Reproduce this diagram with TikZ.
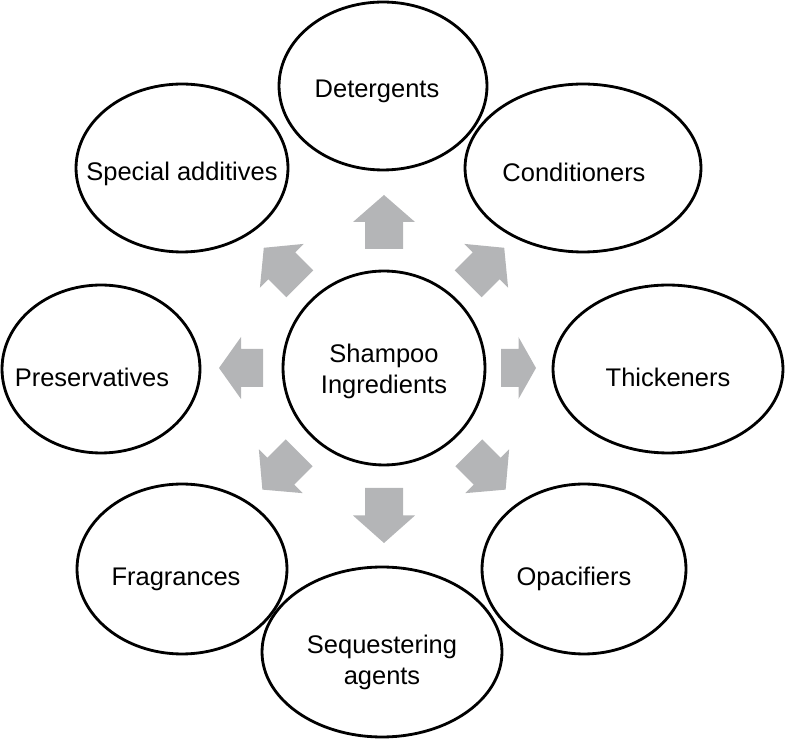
\documentclass[tikz,border=0pt]{standalone}
\usepackage{fontspec}
\setmainfont{Liberation Sans}
\usepackage{xcolor}
\usetikzlibrary{shapes.geometric}
\definecolor{arrowgray}{RGB}{180,181,183}

\begin{document}
\begin{tikzpicture}[x=0.02cm, y=-0.02cm, font=\fontsize{14.5}{17.6}\selectfont,
	bubble/.style 2 args={ellipse, draw, line width=1.6pt, fill=white, inner sep=0pt, minimum width=#1*0.4mm, minimum height=#2*0.4mm},
	every label/.style={align=center, inner sep=0pt}]
		\useasboundingbox (0,0) rectangle (785,739);
		\node[bubble={101}{97}, label={[shift={(0,3)}]center:Shampoo\\Ingredients}] (core) at (384,368) {};
		\node[bubble={104}{84}, label={[shift={(-6,5)}]center:Detergents}] (deterg) at (383,86) {};
		\node[bubble={118}{84}, label={[shift={(-9,4)}]center:Conditioners}] (condit) at (583,168) {};
		\node[bubble={115}{84}, label={[shift={(0,8)}]center:Thickeners}] (thick) at (668,369) {};
		\node[bubble={102}{85}, label={[shift={(-10,10)}]center:Opacifiers}] (opac) at (584,569) {};
		\node[bubble={105}{85}, label={[shift={(-6,10)}]center:Fragrances}] (frag) at (182,569) {};
		\node[bubble={120}{85}, label={[shift={(0,10)}]center:Sequestering\\agents}] (seq) at (382,652) {};
		\node[bubble={99}{84}, label={[shift={(-9,8)}]center:Preservatives}] (preserv) at (101,369) {};
		\node[bubble={106}{84}, label={[shift={(0,6)}]center:Special additives}] (special) at (182,168) {};
		\foreach \ang/\rin/\len in {90/119/54, 45/119/51, 0/117/35, -45/120/52, -90/120/55, -135/120/52, 180/121/44, 135/119/51}
			\fill[arrowgray, shift={(core.center)}, rotate=\ang] (\rin,-19) -- (\rin+\len/2,-19) -- (\rin+\len/2,-31) -- (\rin+\len,0) -- (\rin+\len/2,31) -- (\rin+\len/2,19) -- (\rin,19) -- cycle;
	\end{tikzpicture}
\end{document}
